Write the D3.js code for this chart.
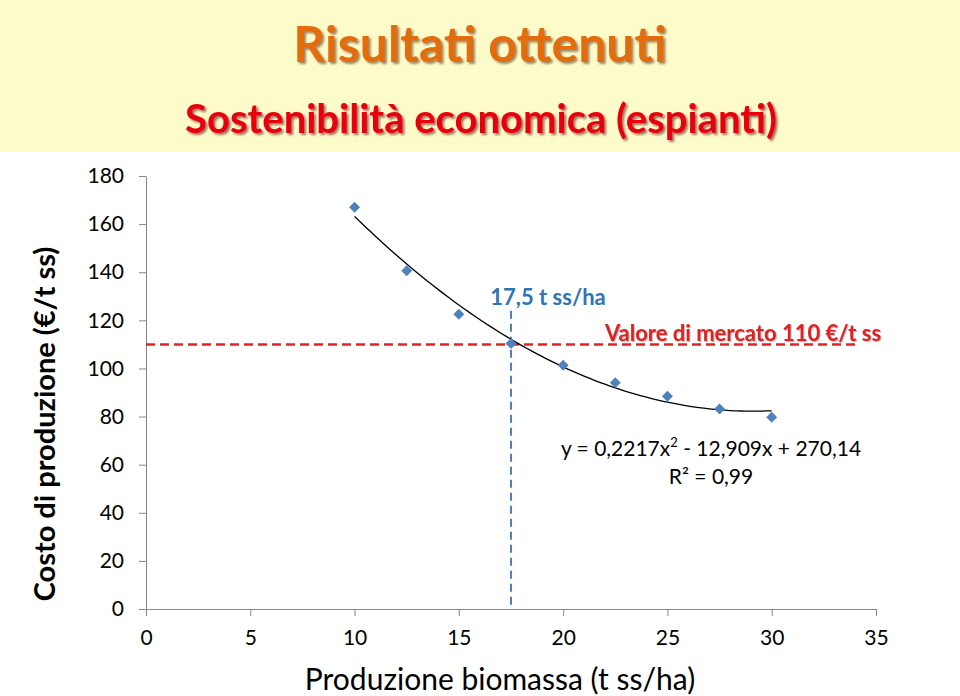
<!DOCTYPE html>
<html>
<head>
<meta charset="utf-8">
<script src="https://cdn.jsdelivr.net/npm/d3@7"></script>
<style>
  html, body { margin: 0; padding: 0; background: #ffffff; }
  svg { display: block; font-family: Lato, "Open Sans", sans-serif; }
</style>
</head>
<body>
<svg id="chart" width="960" height="696"></svg>
<script>
// ---- data ----
const produzione = [10, 12.5, 15, 17.5, 20, 22.5, 25, 27.5, 30];
const costo = [167.0, 140.6, 122.5, 110.4, 101.3, 94.1, 88.4, 83.1, 79.7];
const trendCoeffs = [0.2217, -12.909, 270.14]; // a x^2 + b x + c
const trendRange = [10, 30];
const xTicks = [0, 5, 10, 15, 20, 25, 30, 35];
const yTicks = [0, 20, 40, 60, 80, 100, 120, 140, 160, 180];
const marketValue = [110];          // €/t ss
const marketLineRange = [0, 34];
const breakEven = [17.5];            // t ss/ha
const breakEvenTop = [124];

const titleText = "Risultati ottenuti";
const subtitleText = "Sostenibilità economica (espianti)";
const xTitle = "Produzione biomassa (t ss/ha)";
const yTitle = "Costo di produzione (€/t ss)";
const breakEvenLabel = "17,5 t ss/ha";
const marketLabel = "Valore di mercato 110 €/t ss";
const eqParts = ["y = 0,2217x", "2", " - 12,909x + 270,14"];
const r2Text = "R² = 0,99";

// ---- drawing ----
const svg = d3.select("#chart");
const x = d3.scaleLinear().domain([0, 35]).range([146, 876]);
const y = d3.scaleLinear().domain([0, 180]).range([609, 176]);

const defs = svg.append("defs");
function addShadow(id, dx, dy, color, op, blur) {
  defs.append("filter").attr("id", id).attr("x", "-10%").attr("y", "-30%")
    .attr("width", "120%").attr("height", "160%")
    .append("feDropShadow").attr("dx", dx).attr("dy", dy).attr("stdDeviation", blur)
    .attr("flood-color", color).attr("flood-opacity", op);
}
addShadow("shTitle", 2, 2, "#5a3c1e", 0.6, 0.8);
addShadow("shSub", 2, 2, "#5a1414", 0.6, 0.8);
addShadow("shLabel", 1, 1, "#7a2828", 0.35, 0.6);

// header band
svg.append("rect").attr("x", 0).attr("y", 0).attr("width", 960).attr("height", 152)
  .attr("fill", "#FEFBCB");

svg.append("text").attr("x", 480).attr("y", 62).attr("text-anchor", "middle")
  .attr("font-weight", 700).attr("font-size", 50).attr("fill", "#E36C0A")
  .attr("filter", "url(#shTitle)").text(titleText);
svg.append("text").attr("x", 481).attr("y", 133).attr("text-anchor", "middle")
  .attr("font-weight", 700).attr("font-size", 40).attr("fill", "#E8000B")
  .attr("filter", "url(#shSub)").text(subtitleText);

// axes
const yAxis = d3.axisLeft(y).tickValues(yTicks).tickSize(7).tickSizeOuter(0).tickPadding(15);
const gy = svg.append("g").attr("transform", `translate(${x(0)},0)`).call(yAxis);
const xAxis = d3.axisBottom(x).tickValues(xTicks).tickSize(7).tickSizeOuter(0).tickPadding(14);
const gx = svg.append("g").attr("transform", `translate(0,${y(0)})`).call(xAxis);
[gx, gy].forEach(g => {
  g.select(".domain").attr("stroke", "#868686");
  g.selectAll(".tick line").attr("stroke", "#868686");
  g.selectAll(".tick text").attr("fill", "#000").attr("font-size", 21)
    .attr("font-family", "Lato, sans-serif");
});

// axis titles
svg.append("text").attr("x", 500).attr("y", 690).attr("text-anchor", "middle")
  .attr("font-size", 30).attr("fill", "#000").text(xTitle);
svg.append("text").attr("transform", `translate(55,${424}) rotate(-90)`)
  .attr("text-anchor", "middle").attr("font-size", 29).attr("font-weight", 700)
  .attr("fill", "#000").text(yTitle);

// market value line (red dashed)
svg.append("line")
  .attr("x1", x(marketLineRange[0])).attr("x2", x(marketLineRange[1]))
  .attr("y1", y(marketValue[0])).attr("y2", y(marketValue[0]))
  .attr("stroke", "#E02424").attr("stroke-width", 2.5).attr("stroke-dasharray", "9,5");

// break-even vertical line (blue dashed)
svg.append("line")
  .attr("x1", x(breakEven[0])).attr("x2", x(breakEven[0]))
  .attr("y1", y(breakEvenTop[0])).attr("y2", y(0))
  .attr("stroke", "#4F81BD").attr("stroke-width", 2).attr("stroke-dasharray", "8,5");

// trendline
const a = trendCoeffs[0], b = trendCoeffs[1], c = trendCoeffs[2];
const trendPts = d3.range(trendRange[0], trendRange[1] + 0.001, 0.25).map(v => [v, a * v * v + b * v + c]);
svg.append("path").datum(trendPts)
  .attr("d", d3.line().x(d => x(d[0])).y(d => y(d[1])).curve(d3.curveBasis))
  .attr("fill", "none").attr("stroke", "#000").attr("stroke-width", 1.3);

// points
const sym = d3.symbol().type(d3.symbolSquare).size(60);
svg.append("g").selectAll("path").data(produzione).join("path")
  .attr("d", sym)
  .attr("transform", (d, i) => `translate(${x(d)},${y(costo[i])}) rotate(45)`)
  .attr("fill", "#4F81BD");

// labels
svg.append("text").attr("x", 548).attr("y", 305).attr("text-anchor", "middle")
  .attr("font-size", 22).attr("font-weight", 700).attr("fill", "#2E75B6").text(breakEvenLabel);

svg.append("text").attr("x", 743).attr("y", 341).attr("text-anchor", "middle")
  .attr("font-size", 22).attr("font-weight", 700).attr("fill", "#DF2020")
  .attr("filter", "url(#shLabel)").text(marketLabel);

const eq = svg.append("text").attr("x", 711).attr("y", 456).attr("text-anchor", "middle")
  .attr("font-size", 21).attr("fill", "#000");
eq.append("tspan").text(eqParts[0]);
eq.append("tspan").attr("dy", -9).attr("font-size", 13).text(eqParts[1]);
eq.append("tspan").attr("dy", 9).text(eqParts[2]);
svg.append("text").attr("x", 711).attr("y", 484).attr("text-anchor", "middle")
  .attr("font-size", 21).attr("fill", "#000").text(r2Text);
</script>
</body>
</html>
